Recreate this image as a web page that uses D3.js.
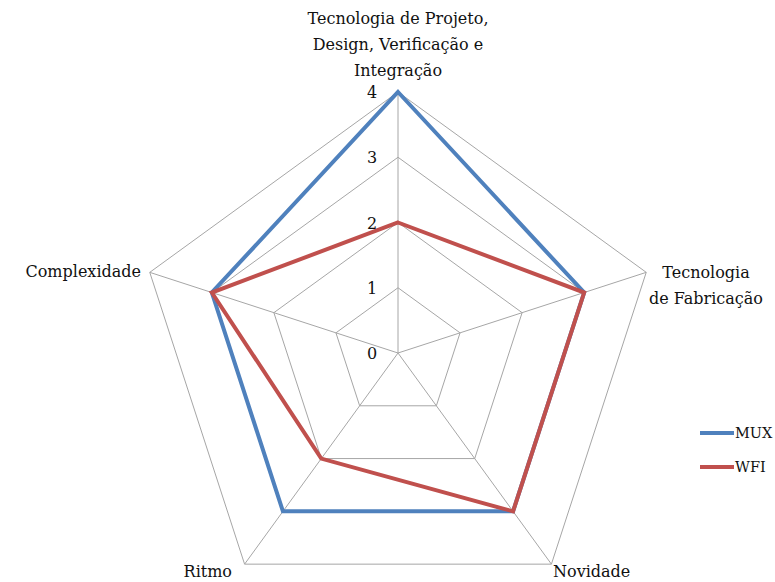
<!DOCTYPE html>
<meta charset="utf-8">
<title>Radar</title>
<style>
  body { margin: 0; background: #fff; }
  svg text { fill: #111; }
</style>
<div id="viz"></div>
<script src="https://cdnjs.cloudflare.com/ajax/libs/d3/7.8.5/d3.min.js"></script>
<script>

var axes = ["Tecnologia de Projeto, Design, Verificação e Integração", "Tecnologia de Fabricação", "Novidade", "Ritmo", "Complexidade"];
var mux = [4, 3, 3, 3, 3];
var wfi = [2, 3, 3, 2, 3];
var ticks = [0, 1, 2, 3, 4];

var width = 775, height = 582;
var cx = 398, cy = 353, R = 261;
var font = "'DejaVu Serif', serif";

var svg = d3.select("#viz").append("svg")
  .attr("width", width)
  .attr("height", height)
  .style("font-family", font);

var r = d3.scaleLinear().domain([0, 4]).range([0, R]);
var angle = d3.scalePoint().domain(d3.range(axes.length + 1)).range([0, 2 * Math.PI]);

function pt(i, v) {
  var a = angle(i) - Math.PI / 2;
  return [cx + r(v) * Math.cos(a), cy + r(v) * Math.sin(a)];
}

// grid rings
ticks.slice(1).forEach(function(t) {
  svg.append("polygon")
    .attr("points", axes.map(function(d, i) { return pt(i, t).join(","); }).join(" "))
    .attr("fill", "none")
    .attr("stroke", "#a6a6a6")
    .attr("stroke-width", 1);
});

// spokes
axes.forEach(function(d, i) {
  var p = pt(i, 4);
  svg.append("line")
    .attr("x1", cx).attr("y1", cy)
    .attr("x2", p[0]).attr("y2", p[1])
    .attr("stroke", "#a6a6a6")
    .attr("stroke-width", 1);
});

// series
var series = [
  { name: "MUX", values: mux, color: "#4f81bd" },
  { name: "WFI", values: wfi, color: "#c0504d" }
];
var line = d3.line().curve(d3.curveLinearClosed);
series.forEach(function(s) {
  svg.append("path")
    .attr("d", line(s.values.map(function(v, i) { return pt(i, v); })))
    .attr("fill", "none")
    .attr("stroke", s.color)
    .attr("stroke-width", 4)
    .attr("stroke-linejoin", "miter");
});

// tick labels
ticks.forEach(function(t) {
  svg.append("text")
    .attr("x", cx - 26)
    .attr("y", cy - r(t) + 6)
    .attr("text-anchor", "middle")
    .style("font-size", "16px")
    .text(t);
});

// axis labels
var labelLines = [
  ["Tecnologia de Projeto,", "Design, Verificação e", "Integração"],
  ["Tecnologia", "de Fabricação"],
  ["Novidade"],
  ["Ritmo"],
  ["Complexidade"]
];
var labelPos = [
  { x: 398, y: 24, anchor: "middle" },
  { x: 706, y: 278, anchor: "middle" },
  { x: 553, y: 577, anchor: "start" },
  { x: 232, y: 577, anchor: "end" },
  { x: 141, y: 277, anchor: "end" }
];
labelLines.forEach(function(ls, i) {
  var t = svg.append("text")
    .attr("x", labelPos[i].x)
    .attr("y", labelPos[i].y)
    .attr("text-anchor", labelPos[i].anchor)
    .style("font-size", "16px");
  ls.forEach(function(l, j) {
    t.append("tspan")
      .attr("x", labelPos[i].x)
      .attr("dy", j === 0 ? 0 : 26)
      .text(l);
  });
});

// legend
series.forEach(function(s, i) {
  var y = 433 + i * 34;
  svg.append("line")
    .attr("x1", 700).attr("x2", 734)
    .attr("y1", y).attr("y2", y)
    .attr("stroke", s.color)
    .attr("stroke-width", 4);
  svg.append("text")
    .attr("x", 735)
    .attr("y", y + 5)
    .style("font-size", "14.5px")
    .text(s.name);
});

</script>
